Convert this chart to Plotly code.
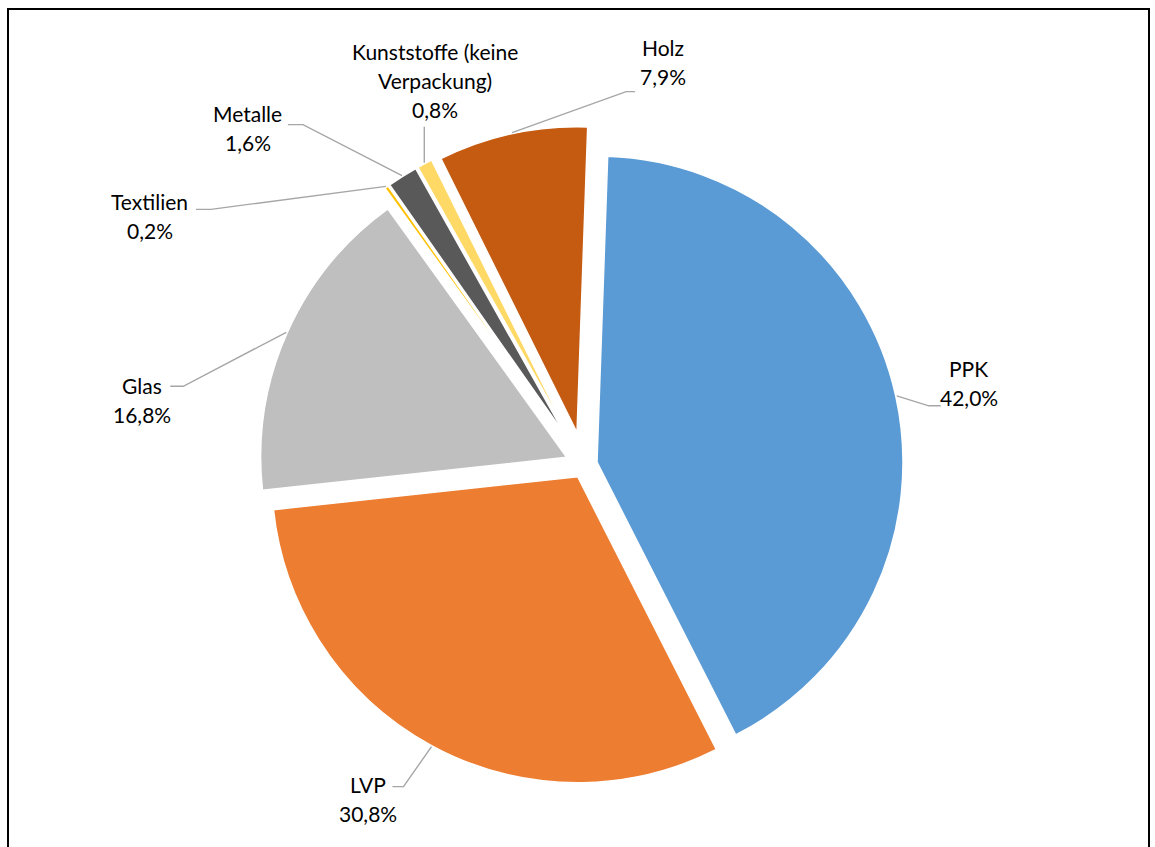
import math
import plotly.graph_objects as go

# Waste fractions and their shares (%)
categories = ["PPK", "LVP", "Glas", "Textilien", "Metalle",
              "Kunststoffe (keine Verpackung)", "Holz"]
shares = [42.0, 30.8, 16.8, 0.2, 1.6, 0.8, 7.9]
name_lines = [["PPK"], ["LVP"], ["Glas"], ["Textilien"], ["Metalle"],
              ["Kunststoffe (keine", "Verpackung)"], ["Holz"]]

colors = ["#5B9BD5", "#ED7D31", "#BFBFBF", "#FFC000", "#595959", "#FFD966", "#C55A11"]
pulls = [0.0435, 0.0435, 0.062, 0.114, 0.114, 0.114, 0.108]
rotation = 2

# canvas / pie geometry (pixels)
W, H = 1155, 847
CX, CY, R = 584, 465, 306

# label layout, offsets in px relative to the slice edge point at mid-angle:
# (elbow dx, dy), (end dx, dy), (label centre dx, dy)
label_layout = [
    ((32, 10), (44, 10), (72, -13)),
    ((-28, 40), (-39, 40), (-63, 52)),
    ((-103, 54), (-116, 54), (-144, 68)),
    ((-175, 23), (-190, 23), (-236, 30)),
    ((-99, -51), (-114, -51), (-154, -48)),
    ((0, -36), (0, -36), (11, -82)),
    ((114, -41), (123, -41), (151, -71)),
]
LINE_GAP = 29
FONT = dict(family="Lato, 'Open Sans', sans-serif", size=21, color="#000000")


def px(x):
    return x / W


def py(y):
    return 1 - y / H


box = 2 * R * (1 + max(pulls))
dom_x = [px(CX - box / 2), px(CX + box / 2)]
dom_y = [py(CY + box / 2), py(CY - box / 2)]

fig = go.Figure(go.Pie(
    labels=categories,
    values=shares,
    sort=False,
    direction="clockwise",
    rotation=rotation,
    pull=pulls,
    marker=dict(colors=colors, line=dict(color="#FFFFFF", width=1.5)),
    textinfo="none",
    hoverinfo="label+percent",
    showlegend=False,
    domain=dict(x=dom_x, y=dom_y),
))

total = sum(shares)
cum = 0.0
shapes = []
annotations = []
for i, v in enumerate(shares):
    mid = math.radians(rotation + (cum + v / 2) / total * 360)
    cum += v
    ux, uy = math.sin(mid), -math.cos(mid)
    rr = R * (1 + pulls[i]) + 1
    ax, ay = CX + rr * ux, CY + rr * uy
    (ex, ey), (fx, fy), (lx, ly) = label_layout[i]
    path = (f"M {px(ax)} {py(ay)} L {px(ax + ex)} {py(ay + ey)} "
            f"L {px(ax + fx)} {py(ay + fy)}")
    shapes.append(dict(type="path", xref="paper", yref="paper", path=path,
                       line=dict(color="#A6A6A6", width=1.4)))
    lines = name_lines[i] + [f"{v:.1f}".replace(".", ",") + "%"]
    n = len(lines)
    for k, t in enumerate(lines):
        yy = ay + ly + (k - (n - 1) / 2) * LINE_GAP
        annotations.append(dict(x=px(ax + lx), y=py(yy), xref="paper", yref="paper",
                                text=t, showarrow=False, font=FONT,
                                xanchor="center", yanchor="middle"))

# chart frame
shapes.append(dict(type="rect", xref="paper", yref="paper",
                   x0=px(8), x1=px(1149), y0=py(900), y1=py(9),
                   line=dict(color="#000000", width=2), fillcolor="rgba(0,0,0,0)"))

fig.update_layout(
    width=W, height=H,
    margin=dict(l=0, r=0, t=0, b=0),
    paper_bgcolor="#FFFFFF",
    plot_bgcolor="#FFFFFF",
    shapes=shapes,
    annotations=annotations,
)

fig.write_html("out.html")
